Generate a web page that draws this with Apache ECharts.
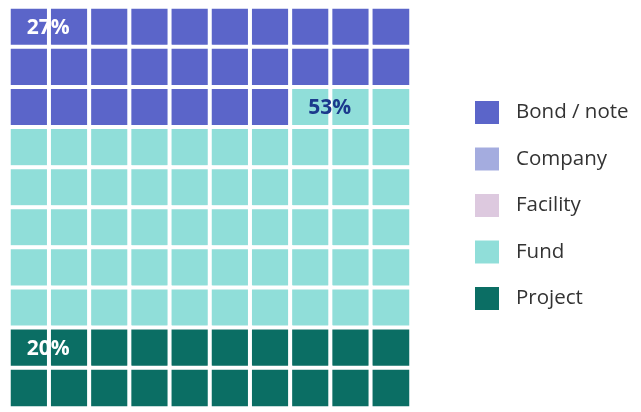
<!DOCTYPE html>
<html>
<head>
<meta charset="utf-8">
<script src="https://cdn.jsdelivr.net/npm/echarts@6/dist/echarts.min.js"></script>
<style>
  html, body { margin: 0; padding: 0; background: #ffffff; }
  #chart { width: 641px; height: 412px; }
</style>
</head>
<body>
<div id="chart"></div>
<script>
// Share of each category, in percent (one square = 1%)
const categories = ['Bond / note', 'Company', 'Facility', 'Fund', 'Project'];
const shares = [27, 0, 0, 53, 20];
const colors = ['#5b65c9', '#a4acdf', '#ddc9df', '#90ded9', '#0b6e64'];
const labelColors = ['#ffffff', '#ffffff', '#ffffff', '#1b3a8c', '#ffffff'];

const gridSize = 10;
const colKeys = Array.from({ length: gridSize }, (_, i) => String(i));
const rowKeys = Array.from({ length: gridSize }, (_, i) => String(i));

// Fill the 10x10 grid row by row from the top-left corner
let cursor = 0;
const series = categories.map((name, ci) => {
  const cells = [];
  for (let k = 0; k < shares[ci]; k++) {
    const idx = cursor + k;
    const item = { value: [idx % gridSize, Math.floor(idx / gridSize), shares[ci]] };
    if (k === 0) {
      item.label = {
        show: true,
        formatter: shares[ci] + '%',
        color: labelColors[ci]
      };
    }
    cells.push(item);
  }
  cursor += shares[ci];
  return {
    name,
    type: 'heatmap',
    data: cells,
    itemStyle: { color: colors[ci], borderColor: '#ffffff', borderWidth: 4 },
    label: {
      show: false,
      position: [20, '52%'],
      align: 'left',
      verticalAlign: 'middle',
      fontFamily: 'Open Sans',
      fontWeight: 'bold',
      fontSize: 21
    },
    emphasis: { disabled: true }
  };
});

const chart = echarts.init(document.getElementById('chart'), null, { renderer: 'canvas' });
chart.setOption({
  backgroundColor: '#ffffff',
  animation: false,
  grid: { left: 9, top: 7, width: 402, height: 401 },
  xAxis: { type: 'category', data: colKeys, show: false },
  yAxis: { type: 'category', data: rowKeys, inverse: true, show: false },
  legend: {
    orient: 'vertical',
    left: 468,
    top: 94,
    itemWidth: 26,
    itemHeight: 25,
    itemGap: 19.5,
    icon: 'rect',
    data: categories.map((name, i) => ({ name, itemStyle: { color: colors[i] } })),
    textStyle: {
      fontFamily: 'Open Sans',
      fontSize: 20.5,
      color: '#333333',
      padding: [0, 0, 0, 11]
    }
  },
  series
});
</script>
</body>
</html>
